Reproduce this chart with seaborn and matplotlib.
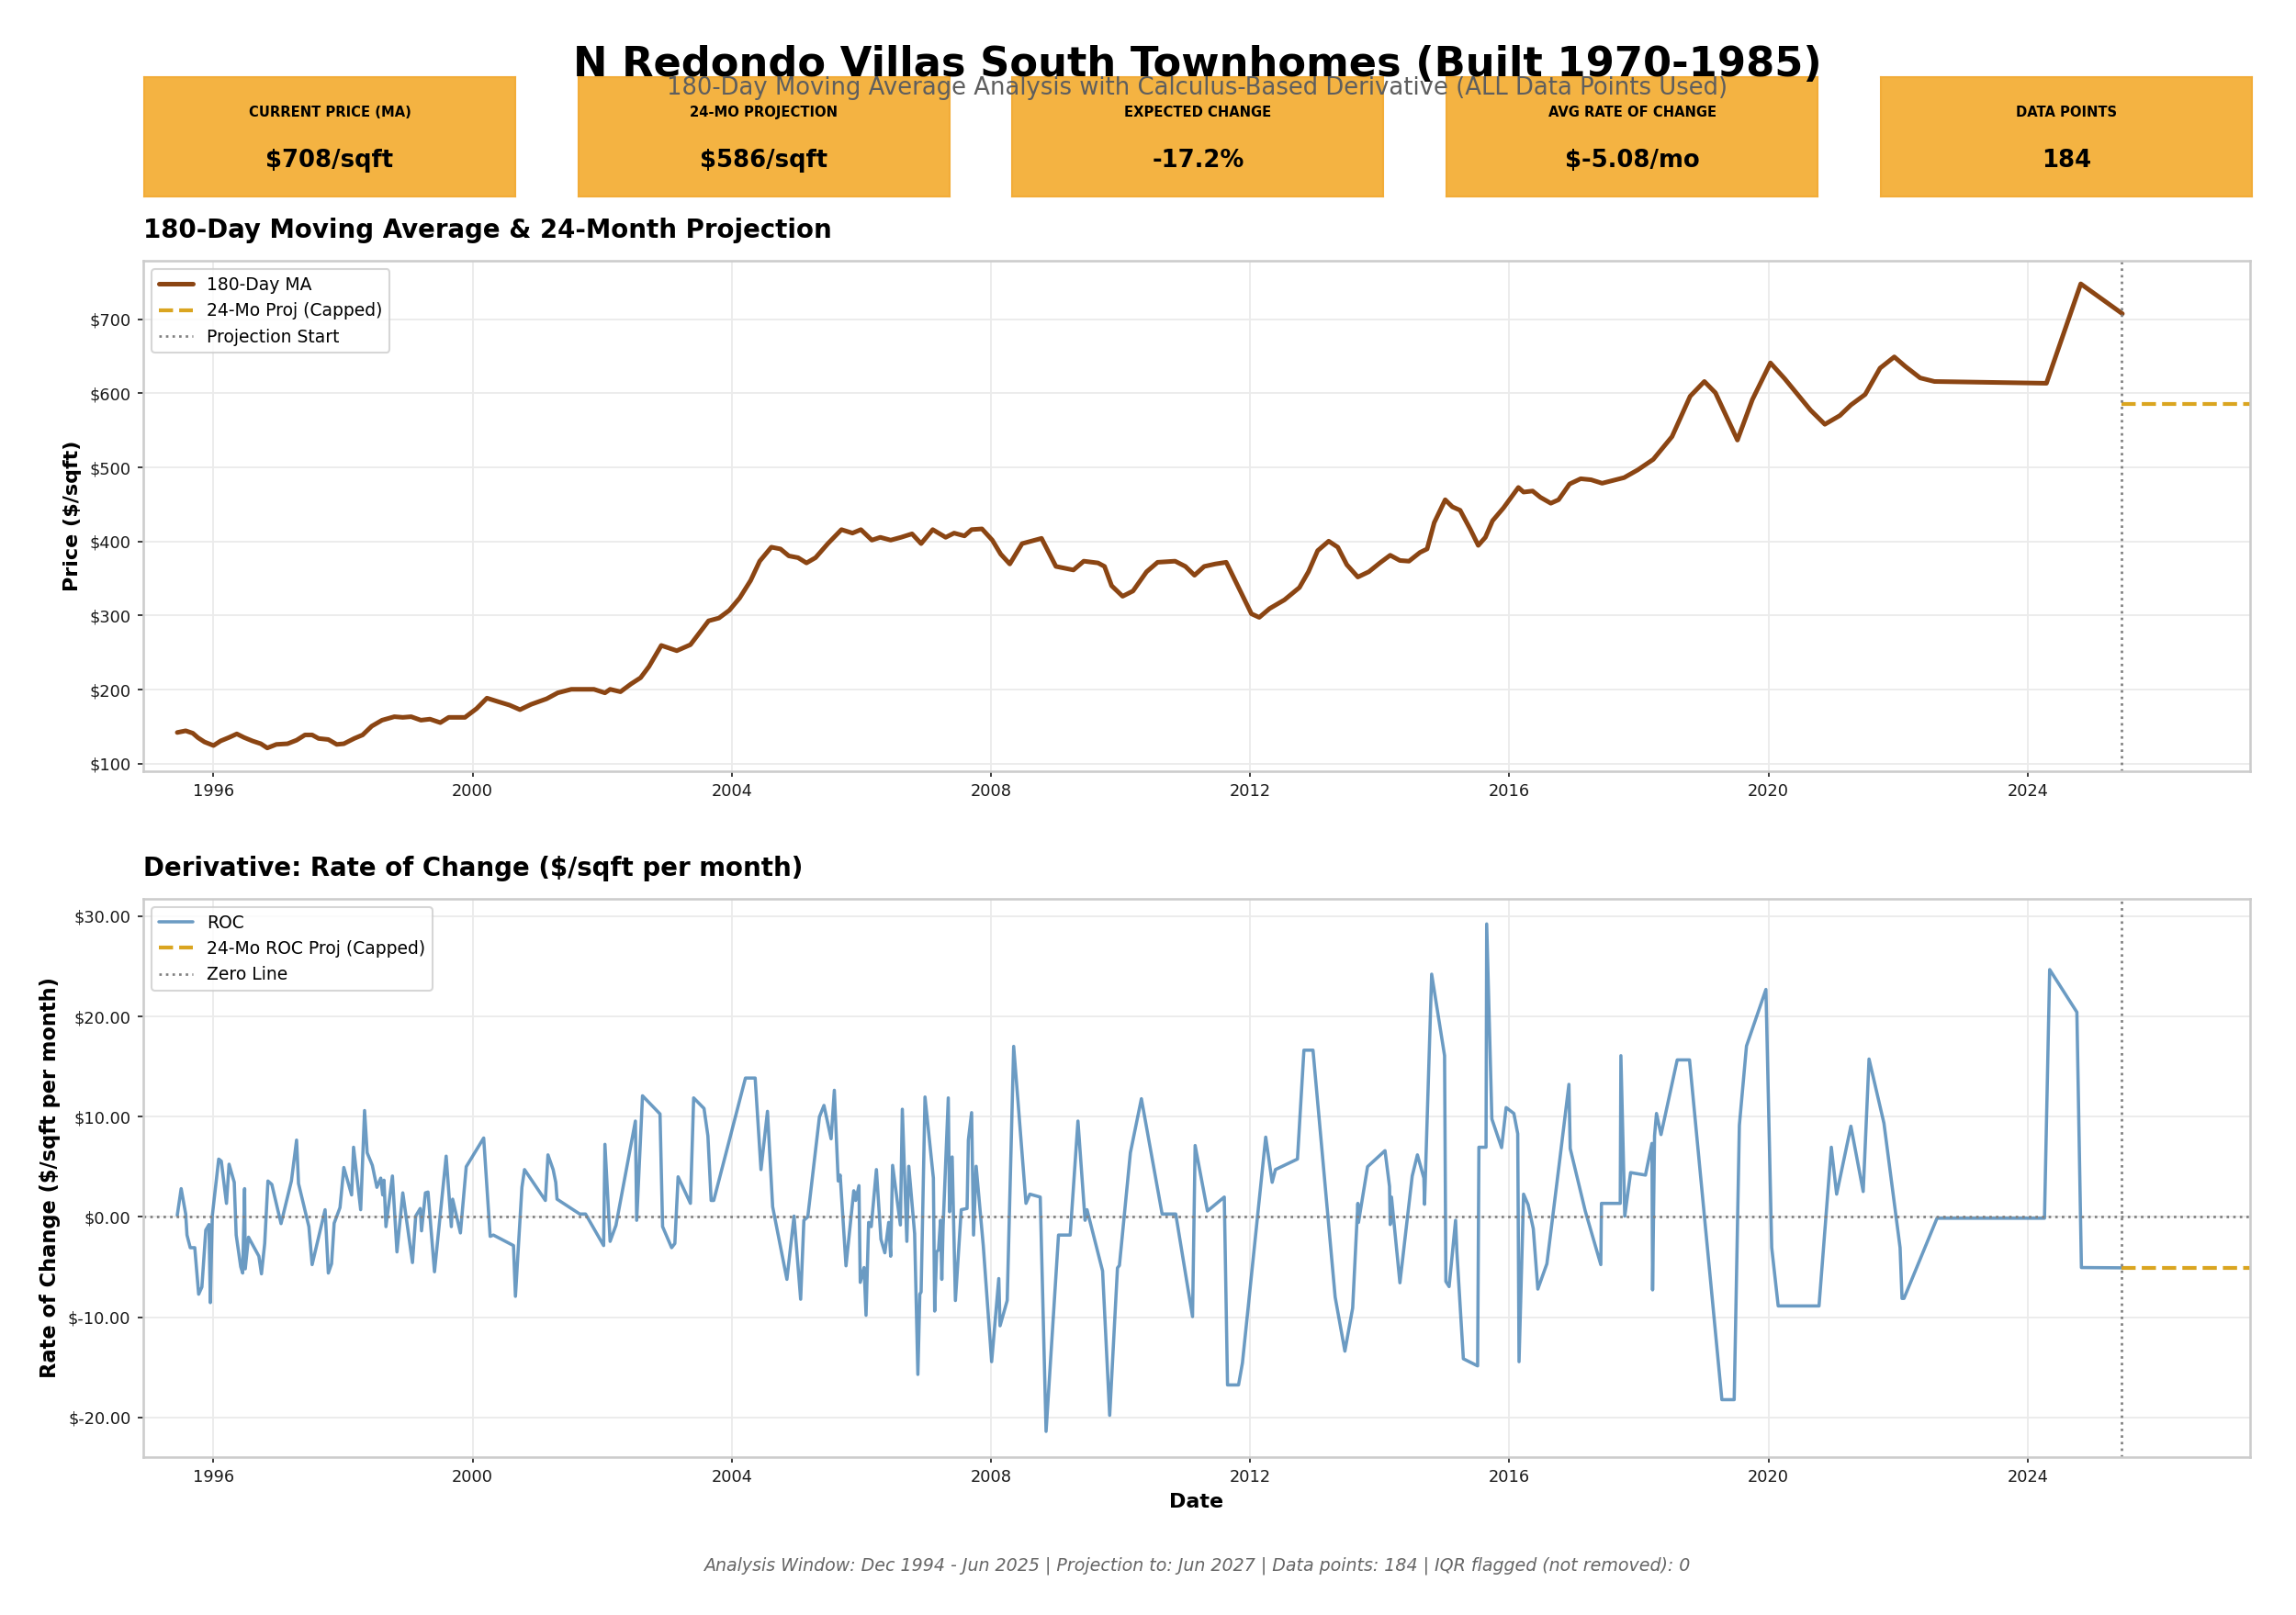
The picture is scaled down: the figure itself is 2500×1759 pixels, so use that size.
import numpy as np
import pandas as pd
import matplotlib
matplotlib.use("Agg")
import matplotlib.pyplot as plt
import matplotlib.dates as mdates
from matplotlib.ticker import FuncFormatter
import seaborn as sns

# --- chart text ---
TITLE = "N Redondo Villas South Townhomes (Built 1970-1985)"
SUBTITLE = "180-Day Moving Average Analysis with Calculus-Based Derivative (ALL Data Points Used)"
FOOTER = ("Analysis Window: Dec 1994 - Jun 2025 | Projection to: Jun 2027 | "
          "Data points: 184 | IQR flagged (not removed): 0")

card_labels = ["CURRENT PRICE (MA)", "24-MO PROJECTION", "EXPECTED CHANGE",
               "AVG RATE OF CHANGE", "DATA POINTS"]
card_values = ["$708/sqft", "$586/sqft", "-17.2%", "$-5.08/mo", "184"]

# --- 180-day moving average ($/sqft), dates as decimal years ---
ma_years = [1995.44, 1995.57, 1995.68, 1995.76, 1995.86, 1996.00, 1996.11, 1996.24, 1996.36, 1996.47,
            1996.60, 1996.73, 1996.83, 1996.97, 1997.14, 1997.28, 1997.41, 1997.52, 1997.62, 1997.77,
            1997.90, 1998.01, 1998.17, 1998.30, 1998.44, 1998.60, 1998.79, 1998.92, 1999.05, 1999.20,
            1999.34, 1999.50, 1999.63, 1999.88, 2000.06, 2000.22, 2000.39, 2000.57, 2000.73, 2000.90,
            2001.14, 2001.31, 2001.52, 2001.87, 2002.04, 2002.12, 2002.28, 2002.44, 2002.59, 2002.72,
            2002.91, 2003.15, 2003.36, 2003.64, 2003.80, 2003.96, 2004.12, 2004.29, 2004.43, 2004.61,
            2004.75, 2004.88, 2005.02, 2005.15, 2005.29, 2005.48, 2005.69, 2005.86, 2005.99, 2006.16,
            2006.29, 2006.45, 2006.61, 2006.78, 2006.92, 2007.10, 2007.30, 2007.43, 2007.59, 2007.70,
            2007.86, 2008.02, 2008.15, 2008.29, 2008.48, 2008.78, 2009.00, 2009.27, 2009.43, 2009.65,
            2009.75, 2009.86, 2010.03, 2010.19, 2010.40, 2010.57, 2010.84, 2011.00, 2011.14, 2011.29,
            2011.46, 2011.63, 2012.02, 2012.14, 2012.30, 2012.53, 2012.76, 2012.90, 2013.04, 2013.21,
            2013.35, 2013.49, 2013.66, 2013.83, 2014.00, 2014.16, 2014.31, 2014.45, 2014.62, 2014.73,
            2014.84, 2015.01, 2015.12, 2015.24, 2015.40, 2015.52, 2015.63, 2015.74, 2015.91, 2016.14,
            2016.22, 2016.36, 2016.48, 2016.64, 2016.76, 2016.93, 2017.10, 2017.26, 2017.43, 2017.77,
            2017.98, 2018.22, 2018.51, 2018.79, 2019.01, 2019.18, 2019.52, 2019.75, 2020.03, 2020.25,
            2020.65, 2020.87, 2021.10, 2021.27, 2021.49, 2021.72, 2021.94, 2022.11, 2022.34, 2022.56,
            2024.29, 2024.82, 2025.46]
ma_values = [142.2, 144.5, 141.2, 135.1, 129.4, 124.6, 130.8, 135.5, 140.3, 135.5,
             130.8, 127.0, 121.3, 126.1, 127.0, 131.8, 138.9, 138.9, 134.1, 132.7,
             126.1, 127.0, 134.1, 138.9, 150.7, 158.8, 163.5, 162.6, 163.5, 158.8,
             160.2, 155.5, 162.6, 162.6, 174.4, 188.6, 183.9, 179.1, 173.0, 180.1,
             187.7, 195.7, 200.5, 200.5, 195.7, 200.5, 197.2, 207.6, 216.1, 231.3,
             259.7, 252.6, 260.7, 292.9, 296.7, 307.1, 323.7, 347.4, 373.5, 392.4,
             390.0, 380.6, 378.2, 371.1, 378.2, 397.2, 416.1, 411.4, 416.1, 401.9,
             405.7, 401.9, 405.7, 410.4, 397.2, 416.1, 405.7, 411.4, 407.6, 416.1,
             417.1, 401.9, 383.0, 369.7, 397.2, 404.3, 366.4, 361.6, 373.5, 371.1,
             366.4, 340.3, 326.1, 333.2, 359.2, 372.0, 373.5, 366.4, 354.5, 366.4,
             369.7, 372.0, 302.4, 297.6, 309.5, 321.3, 337.9, 359.2, 387.7, 400.5,
             392.4, 368.7, 352.1, 359.2, 371.1, 381.5, 374.4, 373.5, 385.3, 390.0,
             425.6, 456.4, 446.9, 442.2, 416.1, 394.8, 405.7, 428.0, 445.5, 473.0,
             466.8, 468.2, 459.7, 451.7, 456.4, 477.7, 484.8, 483.4, 478.7, 486.3,
             496.7, 510.9, 541.7, 596.2, 616.1, 600.9, 537.0, 591.5, 641.2, 619.9,
             577.3, 558.3, 570.1, 584.4, 598.6, 634.1, 649.3, 636.5, 620.9, 616.1,
             613.7, 747.9, 707.6]

# --- rate of change ($/sqft per month) ---
roc_years = [1995.44, 1995.50, 1995.57, 1995.59, 1995.64, 1995.71, 1995.77, 1995.82, 1995.88, 1995.93,
             1995.95, 1995.98, 1996.08, 1996.12, 1996.20, 1996.24, 1996.32, 1996.35, 1996.42, 1996.45,
             1996.48, 1996.49, 1996.54, 1996.70, 1996.74, 1996.79, 1996.84, 1996.90, 1997.04, 1997.20,
             1997.28, 1997.31, 1997.47, 1997.52, 1997.72, 1997.77, 1997.82, 1997.86, 1997.95, 1998.01,
             1998.13, 1998.16, 1998.27, 1998.33, 1998.37, 1998.45, 1998.52, 1998.58, 1998.61, 1998.63,
             1998.66, 1998.76, 1998.83, 1998.92, 1999.07, 1999.12, 1999.19, 1999.21, 1999.27, 1999.31,
             1999.41, 1999.59, 1999.67, 1999.69, 1999.81, 1999.90, 2000.17, 2000.27, 2000.32, 2000.63,
             2000.66, 2000.76, 2000.80, 2001.12, 2001.16, 2001.24, 2001.28, 2001.30, 2001.65, 2001.74,
             2002.02, 2002.04, 2002.12, 2002.21, 2002.51, 2002.53, 2002.62, 2002.89, 2002.93, 2003.07,
             2003.12, 2003.17, 2003.36, 2003.41, 2003.57, 2003.63, 2003.68, 2003.72, 2004.21, 2004.36,
             2004.45, 2004.55, 2004.63, 2004.85, 2004.96, 2005.06, 2005.11, 2005.17, 2005.35, 2005.42,
             2005.53, 2005.58, 2005.64, 2005.67, 2005.76, 2005.88, 2005.91, 2005.96, 2005.98, 2006.04,
             2006.07, 2006.11, 2006.15, 2006.23, 2006.30, 2006.36, 2006.42, 2006.45, 2006.48, 2006.60,
             2006.63, 2006.70, 2006.73, 2006.82, 2006.87, 2006.90, 2006.92, 2006.98, 2007.11, 2007.13,
             2007.16, 2007.19, 2007.22, 2007.24, 2007.26, 2007.34, 2007.36, 2007.40, 2007.45, 2007.54,
             2007.63, 2007.65, 2007.70, 2007.73, 2007.77, 2007.88, 2008.01, 2008.12, 2008.14, 2008.25,
             2008.35, 2008.54, 2008.60, 2008.76, 2008.85, 2009.04, 2009.22, 2009.34, 2009.45, 2009.48,
             2009.72, 2009.83, 2009.95, 2009.98, 2010.15, 2010.32, 2010.64, 2010.85, 2011.11, 2011.15,
             2011.34, 2011.60, 2011.65, 2011.82, 2011.88, 2012.24, 2012.34, 2012.39, 2012.73, 2012.83,
             2012.97, 2013.31, 2013.46, 2013.58, 2013.66, 2013.67, 2013.81, 2014.08, 2014.15, 2014.16,
             2014.18, 2014.31, 2014.50, 2014.58, 2014.68, 2014.69, 2014.80, 2015.00, 2015.02, 2015.07,
             2015.17, 2015.19, 2015.29, 2015.51, 2015.53, 2015.64, 2015.65, 2015.73, 2015.88, 2015.95,
             2016.07, 2016.13, 2016.15, 2016.22, 2016.29, 2016.37, 2016.44, 2016.58, 2016.78, 2016.92,
             2016.94, 2017.17, 2017.41, 2017.42, 2017.71, 2017.72, 2017.78, 2017.87, 2018.10, 2018.20,
             2018.21, 2018.24, 2018.27, 2018.34, 2018.59, 2018.78, 2019.28, 2019.47, 2019.55, 2019.66,
             2019.96, 2020.05, 2020.15, 2020.78, 2020.97, 2021.05, 2021.27, 2021.46, 2021.55, 2021.78,
             2022.03, 2022.06, 2022.09, 2022.60, 2024.26, 2024.34, 2024.76, 2024.83, 2025.46]
roc_values = [0.17, 2.82, 0.29, -1.81, -3.07, -3.07, -7.71, -6.99, -1.31, -0.76,
              -8.55, 0.08, 5.77, 5.56, 1.35, 5.26, 3.45, -1.81, -4.97, -5.60,
              2.82, -5.18, -2.02, -3.92, -5.68, -2.65, 3.58, 3.24, -0.67, 3.58,
              7.66, 3.33, -0.97, -4.76, 0.72, -5.60, -4.67, -0.63, 0.93, 4.93,
              2.19, 6.95, 0.72, 10.61, 6.40, 5.14, 2.95, 3.87, 2.19, 3.66,
              -0.97, 4.08, -3.49, 2.40, -4.55, 0.08, 0.84, -1.39, 2.40, 2.48,
              -5.47, 6.06, -0.97, 1.77, -1.60, 5.01, 7.87, -1.94, -1.81, -2.86,
              -7.92, 2.95, 4.72, 1.64, 6.19, 4.72, 3.45, 1.77, 0.29, 0.29,
              -2.86, 7.24, -2.44, -0.84, 9.56, -0.34, 12.08, 10.27, -0.97, -3.07,
              -2.65, 4.00, 1.35, 11.87, 10.82, 8.08, 1.64, 1.64, 13.85, 13.85,
              4.72, 10.53, 1.01, -6.23, 0.08, -8.21, -0.34, 0.00, 9.98, 11.12,
              7.79, 12.63, 3.58, 4.17, -4.88, 2.61, 1.64, 3.12, -6.53, -5.05,
              -9.81, -0.55, -0.97, 4.72, -2.23, -3.58, -0.55, -3.92, 5.14, -0.80,
              10.74, -2.44, 5.05, -1.68, -15.71, -7.71, -7.49, 11.96, 3.87, -9.39,
              -3.49, -3.28, -0.34, -6.23, -0.97, 11.87, 0.51, 5.98, -8.34, 0.72,
              0.84, 7.66, 10.40, -1.81, 5.05, -2.86, -14.44, -6.15, -10.86, -8.34,
              17.01, 1.35, 2.27, 1.98, -21.39, -1.81, -1.81, 9.56, -0.34, 0.72,
              -5.39, -19.79, -5.09, -4.84, 6.40, 11.79, 0.29, 0.29, -9.94, 7.12,
              0.59, 1.98, -16.76, -16.76, -14.57, 7.96, 3.45, 4.72, 5.77, 16.63,
              16.63, -8.00, -13.39, -9.09, 1.35, -0.55, 5.01, 6.61, 3.03, -0.76,
              1.98, -6.57, 4.08, 6.19, 3.87, 1.26, 24.21, 16.08, -6.44, -6.95,
              -0.34, -3.49, -14.15, -14.86, 6.95, 6.95, 29.22, 9.77, 6.91, 10.91,
              10.32, 8.29, -14.44, 2.27, 1.22, -1.18, -7.20, -4.67, 5.77, 13.22,
              6.82, 0.59, -4.76, 1.35, 1.35, 16.08, 0.08, 4.42, 4.17, 7.33,
              -7.28, 8.08, 10.32, 8.21, 15.66, 15.66, -18.23, -18.23, 9.14, 17.05,
              22.69, -3.07, -8.88, -8.88, 6.95, 2.27, 9.05, 2.53, 15.75, 9.35,
              -3.07, -8.13, -8.13, -0.13, -0.13, 24.67, 20.42, -5.05, -5.08]

window_start = "1994-12-01"
proj_start = "2025-06-15"
proj_end = "2027-06-08"
ma_proj_value = 586
roc_proj_value = -5.08

MA_COLOR = "#8B4513"
ROC_COLOR = "#4682B4"
PROJ_COLOR = "#DAA520"
CARD_COLOR = "#F4B342"


def to_dates(years):
    out = []
    for y in years:
        yr = int(y)
        out.append(pd.Timestamp(year=yr, month=1, day=1) + pd.Timedelta(days=(y - yr) * 365.25))
    return pd.to_datetime(out)


sns.set_style("whitegrid")
plt.rcParams.update({
    "font.family": ["DejaVu Sans"],
    "text.color": "black",
    "axes.labelcolor": "black",
    "axes.titlecolor": "black",
    "axes.edgecolor": "#cccccc",
    "axes.linewidth": 1.25,
    "grid.color": "#ebebeb",
    "grid.linewidth": 0.9,
    "xtick.bottom": True,
    "ytick.left": True,
    "xtick.major.size": 3,
    "ytick.major.size": 3,
    "xtick.color": "#1a1a1a",
    "ytick.color": "#1a1a1a",
})

ma_df = pd.DataFrame({"date": to_dates(ma_years), "price": ma_values})
roc_df = pd.DataFrame({"date": to_dates(roc_years), "roc": roc_values})
ma_proj = pd.DataFrame({"date": pd.to_datetime([proj_start, proj_end]),
                        "price": [ma_proj_value, ma_proj_value]})
roc_proj = pd.DataFrame({"date": pd.to_datetime([proj_start, proj_end]),
                         "roc": [roc_proj_value, roc_proj_value]})

fig = plt.figure(figsize=(2500 / 150, 1759 / 150), dpi=150)
fig.patch.set_facecolor("white")

# summary cards
for i, (lab, val) in enumerate(zip(card_labels, card_values)):
    cax = fig.add_axes([0.0628 + i * 0.1891, 0.8784, 0.1616, 0.0739])
    cax.set_facecolor(CARD_COLOR)
    cax.set_xticks([])
    cax.set_yticks([])
    cax.grid(False)
    for s in cax.spines.values():
        s.set_color("#F2AC38")
        s.set_linewidth(1)
    cax.text(0.5, 0.70, lab, ha="center", va="center", fontsize=7.1, fontweight="bold",
             color="black", transform=cax.transAxes)
    cax.text(0.5, 0.30, val, ha="center", va="center", fontsize=12.4, fontweight="bold",
             color="black", transform=cax.transAxes)

fig.text(0.5214, 0.9528, TITLE, ha="center", va="baseline", fontsize=21.5, fontweight="bold",
         color="black")
fig.text(0.5214, 0.9414, SUBTITLE, ha="center", va="baseline", fontsize=12.4, color="#5e5e5e")

# top: moving average
ax1 = fig.add_axes([0.0624, 0.5225, 0.9176, 0.3161])
sns.lineplot(data=ma_df, x="date", y="price", ax=ax1, color=MA_COLOR, linewidth=2.4,
             label="180-Day MA", sort=False, estimator=None)
sns.lineplot(data=ma_proj, x="date", y="price", ax=ax1, color=PROJ_COLOR, linewidth=2,
             linestyle="--", label="24-Mo Proj (Capped)", sort=False, estimator=None)
ax1.axvline(pd.Timestamp(proj_start), color="gray", linestyle=":", linewidth=1.3,
            label="Projection Start")
ax1.set_title("180-Day Moving Average & 24-Month Projection", loc="left", fontsize=13.25,
              fontweight="bold", pad=12)
ax1.set_xlabel("")
ax1.set_ylabel("Price ($/sqft)", fontsize=10.7, fontweight="bold")
ax1.yaxis.set_major_formatter(FuncFormatter(lambda v, _: f"${v:,.0f}"))
ax1.legend(loc="upper left", fontsize=9, frameon=True)

# bottom: derivative
ax2 = fig.add_axes([0.0624, 0.0980, 0.9176, 0.3456])
sns.lineplot(data=roc_df, x="date", y="roc", ax=ax2, color=ROC_COLOR, alpha=0.8, linewidth=1.7,
             label="ROC", sort=False, estimator=None)
sns.lineplot(data=roc_proj, x="date", y="roc", ax=ax2, color=PROJ_COLOR, linewidth=2,
             linestyle="--", label="24-Mo ROC Proj (Capped)", sort=False, estimator=None)
ax2.axhline(0, color="gray", linestyle=":", linewidth=1.3, label="Zero Line")
ax2.axvline(pd.Timestamp(proj_start), color="gray", linestyle=":", linewidth=1.3)
ax2.set_title("Derivative: Rate of Change ($/sqft per month)", loc="left", fontsize=13.25,
              fontweight="bold", pad=12)
ax2.set_xlabel("Date", fontsize=10.7, fontweight="bold")
ax2.set_ylabel("Rate of Change ($/sqft per month)", fontsize=10.8, fontweight="bold")
ax2.yaxis.set_major_formatter(FuncFormatter(lambda v, _: f"${v:.2f}"))
ax2.legend(loc="upper left", fontsize=9, frameon=True)

for ax in (ax1, ax2):
    ax.set_xlim(pd.Timestamp(window_start), pd.Timestamp(proj_end))
    ax.xaxis.set_major_locator(mdates.YearLocator(4))
    ax.xaxis.set_major_formatter(mdates.DateFormatter("%Y"))
    ax.tick_params(labelsize=8.5)

fig.text(0.5214, 0.0307, FOOTER, ha="center", va="center", fontsize=9.1, style="italic",
         color="#666666")

fig.savefig("out.png", dpi=150)
plt.close(fig)
